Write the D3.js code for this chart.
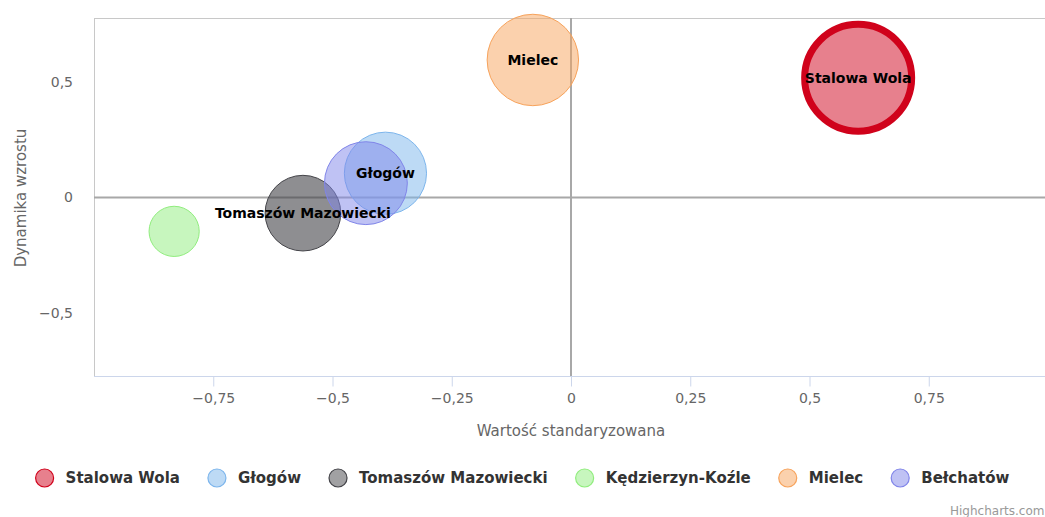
<!DOCTYPE html>
<html>
<head>
<meta charset="utf-8">
<script src="https://cdn.jsdelivr.net/npm/d3@7/dist/d3.min.js"></script>
<style>
    body { margin: 0; background: #fff; }
    svg { display: block; font-family: "DejaVu Sans", "Lucida Grande", sans-serif; }
</style>
</head>
<body>
<div id="chart"></div>
<script>
// Miasta i ich wartosci
var cities = ["Stalowa Wola", "Głogów", "Tomaszów Mazowiecki", "Kędzierzyn-Koźle", "Mielec", "Bełchatów"];
var standardValues = [0.602, -0.389, -0.562, -0.832, -0.080, -0.430];
var growthValues = [0.519, 0.105, -0.068, -0.147, 0.596, 0.062];
var bubbleSizes = [100, 59, 50, 22, 73, 60];
var strokeColors = ["#d0021b", "#7cb5ec", "#434348", "#90ed7d", "#f7a35c", "#8085e9"];
var xTicks = [-0.75, -0.5, -0.25, 0, 0.25, 0.5, 0.75];
var yTicks = [-0.5, 0, 0.5];

var svgWidth = 1045, svgHeight = 517;
var margin = {top: 18, left: 94, bottom: 376, right: 1048};

var locale = d3.formatLocale({decimal: ",", thousands: " ", grouping: [3], currency: ["", ""]});
var fmt = locale.format("");

var svg = d3.select("#chart").append("svg")
    .attr("width", svgWidth)
    .attr("height", svgHeight);

var x = d3.scaleLinear().domain([-1, 1]).range([margin.left, margin.right]);
var y = d3.scaleLinear().domain([-0.774, 0.778]).range([margin.bottom, margin.top]);
var r = d3.scaleSqrt().domain([0, 100]).range([0, 53.5]);

var points = cities.map(function (c, i) {
    return {name: c, x: standardValues[i], y: growthValues[i], z: bubbleSizes[i], color: strokeColors[i], i: i};
});

// plot frame
svg.append("rect")
    .attr("x", margin.left + 0.5)
    .attr("y", margin.top + 0.5)
    .attr("width", 1000)
    .attr("height", margin.bottom - margin.top)
    .attr("fill", "none")
    .attr("stroke", "#c8c8c8");

// zero lines
svg.append("line")
    .attr("x1", margin.left).attr("x2", svgWidth)
    .attr("y1", y(0)).attr("y2", y(0))
    .attr("stroke", "#a8a8a8").attr("stroke-width", 2);
svg.append("line")
    .attr("x1", x(0)).attr("x2", x(0))
    .attr("y1", margin.top).attr("y2", margin.bottom)
    .attr("stroke", "#a8a8a8").attr("stroke-width", 2);

// x axis
var xAxis = svg.append("g")
    .attr("transform", "translate(0," + (margin.bottom + 0.5) + ")")
    .call(d3.axisBottom(x).tickValues(xTicks).tickFormat(fmt).tickSize(10).tickPadding(7));
xAxis.select(".domain").attr("stroke", "#ccd6eb").attr("d", "M" + margin.left + ",0H" + svgWidth);
xAxis.selectAll(".tick line").attr("stroke", "#ccd6eb");
xAxis.selectAll(".tick text")
    .attr("fill", "#666")
    .style("font-size", "14px")
    .style("font-family", "DejaVu Sans, sans-serif");

// y axis labels (no ticks)
svg.selectAll(".ylab")
    .data(yTicks)
    .enter()
    .append("text")
    .attr("class", "ylab")
    .attr("x", 73)
    .attr("y", function (d) { return y(d); })
    .attr("dy", "0.35em")
    .attr("text-anchor", "end")
    .attr("fill", "#666")
    .style("font-size", "14px")
    .text(function (d) { return fmt(d); });

// axis titles
svg.append("text")
    .attr("x", x(0))
    .attr("y", 436)
    .attr("text-anchor", "middle")
    .attr("fill", "#666")
    .style("font-size", "15px")
    .text("Wartość standaryzowana");

svg.append("text")
    .attr("transform", "translate(26,198) rotate(-90)")
    .attr("text-anchor", "middle")
    .attr("fill", "#666")
    .style("font-size", "15px")
    .text("Dynamika wzrostu");

// bubbles
svg.append("g").selectAll("circle")
    .data(points)
    .enter()
    .append("circle")
    .attr("cx", function (d) { return x(d.x); })
    .attr("cy", function (d) { return y(d.y); })
    .attr("r", function (d) { return r(d.z); })
    .attr("fill", function (d) { return d.color; })
    .attr("fill-opacity", function (d) { return d.i === 2 ? 0.6 : 0.5; })
    .attr("stroke", function (d) { return d.color; })
    .attr("stroke-width", function (d) { return d.i === 0 ? 7 : 1; });

// data labels, hide ones that overlap an earlier label (boxes padded like highcharts)
var labelG = svg.append("g");
var placed = [];
var pad = 5;
points.forEach(function (d) {
    var t = labelG.append("text")
        .attr("x", x(d.x))
        .attr("y", y(d.y))
        .attr("dy", "0.35em")
        .attr("text-anchor", "middle")
        .attr("fill", "#000")
        .style("font-size", "14px")
        .style("font-weight", "bold")
        .text(d.name);
    var bb = t.node().getBBox();
    var b = {x: bb.x - pad, y: bb.y - pad, width: bb.width + 2 * pad, height: bb.height + 2 * pad};
    var hit = placed.some(function (p) {
        return b.x < p.x + p.width && p.x < b.x + b.width && b.y < p.y + p.height && p.y < b.y + b.height;
    });
    if (hit) {
        t.remove();
    } else {
        placed.push(b);
    }
});

// legend
var legend = svg.append("g");
var pos = 0;
points.forEach(function (d) {
    var item = legend.append("g").attr("transform", "translate(" + pos + ",0)");
    item.append("circle")
        .attr("cx", 9).attr("cy", 0).attr("r", 9)
        .attr("fill", d.color).attr("fill-opacity", 0.5)
        .attr("stroke", d.color).attr("stroke-width", 1.2);
    var t = item.append("text")
        .attr("x", 30)
        .attr("dy", "0.36em")
        .attr("fill", "#333")
        .style("font-size", "15px")
        .style("font-weight", "bold")
        .text(d.name);
    pos += 30 + t.node().getComputedTextLength() + 28;
});
var legendWidth = pos - 28;
legend.attr("transform", "translate(" + (522.5 - legendWidth / 2) + ",478)");

// credits
svg.append("text")
    .attr("x", 950)
    .attr("y", 515)
    .attr("fill", "#999")
    .style("font-size", "12px")
    .text("Highcharts.com");
</script>
</body>
</html>
